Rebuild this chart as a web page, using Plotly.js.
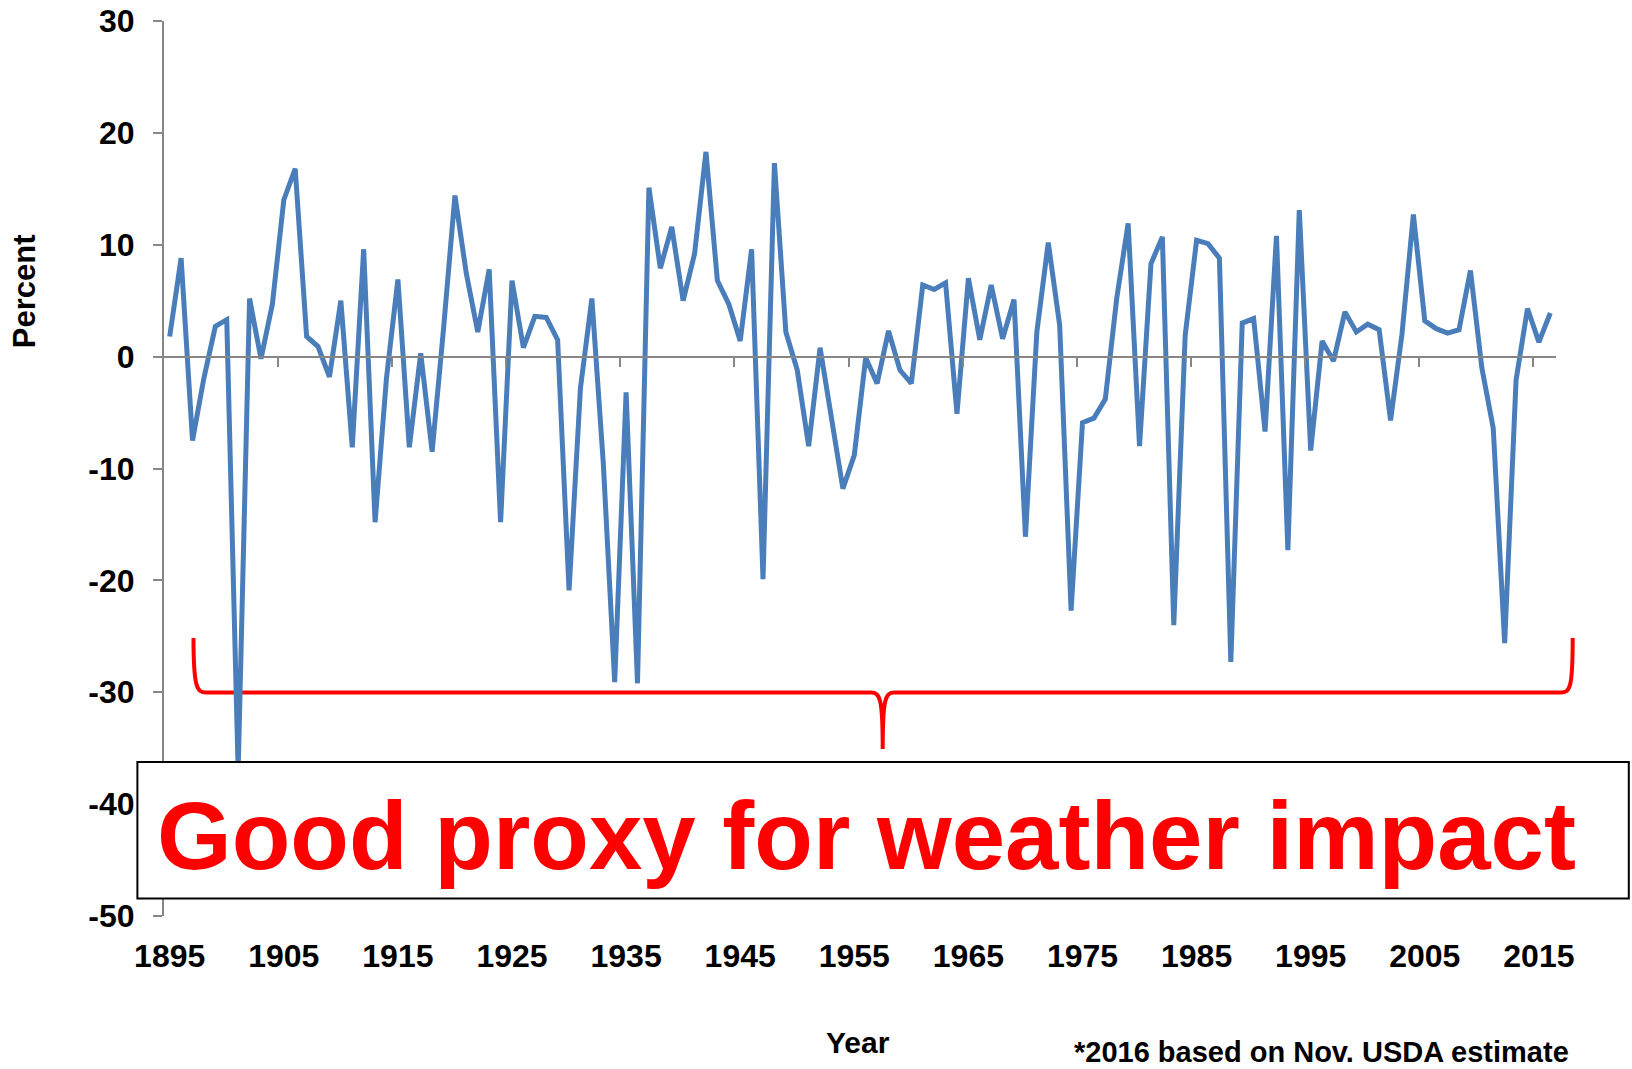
<!DOCTYPE html>
<html>
<head>
<meta charset="utf-8">
<script src="https://cdn.plot.ly/plotly-3.0.1.min.js"></script>
<style>html,body{margin:0;padding:0;background:#fff;}#chart{width:1632px;height:1069px;}</style>
</head>
<body>
<div id="chart"></div>
<script>
const years = [1895,1896,1897,1898,1899,1900,1901,1902,1903,1904,1905,1906,1907,1908,1909,1910,1911,1912,1913,1914,1915,1916,1917,1918,1919,1920,1921,1922,1923,1924,1925,1926,1927,1928,1929,1930,1931,1932,1933,1934,1935,1936,1937,1938,1939,1940,1941,1942,1943,1944,1945,1946,1947,1948,1949,1950,1951,1952,1953,1954,1955,1956,1957,1958,1959,1960,1961,1962,1963,1964,1965,1966,1967,1968,1969,1970,1971,1972,1973,1974,1975,1976,1977,1978,1979,1980,1981,1982,1983,1984,1985,1986,1987,1988,1989,1990,1991,1992,1993,1994,1995,1996,1997,1998,1999,2000,2001,2002,2003,2004,2005,2006,2007,2008,2009,2010,2011,2012,2013,2014,2015,2016];
const percent = [1.8,8.8,-7.5,-1.9,2.7,3.3,-37,5.2,-0.2,4.7,14.0,16.8,1.8,0.9,-1.8,5.0,-8.1,9.6,-14.8,-1.9,6.9,-8.1,0.3,-8.5,2.5,14.4,7.4,2.2,7.8,-14.8,6.8,0.8,3.6,3.5,1.5,-20.9,-2.8,5.2,-9.5,-29.1,-3.2,-29.2,15.1,7.9,11.6,5.0,9.2,18.3,6.8,4.7,1.4,9.6,-19.9,17.3,2.2,-1.2,-8.0,0.8,-5.5,-11.8,-8.8,-0.1,-2.4,2.3,-1.2,-2.4,6.4,6.0,6.6,-5.1,7.0,1.5,6.4,1.6,5.1,-16.1,2.2,10.2,2.8,-22.7,-5.9,-5.5,-3.8,5.2,11.9,-8.0,8.3,10.7,-24.0,1.9,10.4,10.1,8.8,-27.3,3.0,3.4,-6.7,10.8,-17.3,13.1,-8.4,1.4,-0.4,4.0,2.2,2.9,2.4,-5.7,2.0,12.7,3.2,2.5,2.1,2.4,7.7,-1.0,-6.4,-25.6,-2.1,4.3,1.3,3.9];
const xLabelYears = [1895,1905,1915,1925,1935,1945,1955,1965,1975,1985,1995,2005,2015];
const xLabelText = ["1895","1905","1915","1925","1935","1945","1955","1965","1975","1985","1995","2005","2015"];
const zeroTicks = [1904.5,1914.5,1924.5,1934.5,1944.5,1954.5,1964.5,1974.5,1984.5,1994.5,2004.5,2014.5];
const yTickVals = [-50,-40,-30,-20,-10,0,10,20,30];
const yTickText = ["-50","-40","-30","-20","-10","0","10","20","30"];
const xTitle = "Year";
const yTitle = "Percent";
const boxText = "Good proxy for weather impact";
const footnote = "*2016 based on Nov. USDA estimate";

const FONT = "Arial, 'Liberation Sans', Helvetica, sans-serif";
const GRAY = "#868686";
const ML = 164, MT = 21, PW = 1392, PH = 895;
function P(x, y) { return ((x - ML) / PW).toFixed(5) + "," + ((MT + PH - y) / PH).toFixed(5); }
function px(x) { return (x - ML) / PW; }
function py(y) { return (MT + PH - y) / PH; }

const brace = "M" + P(193.5, 638) +
  " C" + P(193.5, 688) + " " + P(197, 692.5) + " " + P(206, 692.5) +
  " L" + P(871, 692.5) +
  " C" + P(880, 692.5) + " " + P(882.7, 698) + " " + P(882.7, 749) +
  " C" + P(882.7, 698) + " " + P(885.4, 692.5) + " " + P(894.4, 692.5) +
  " L" + P(1561, 692.5) +
  " C" + P(1570, 692.5) + " " + P(1572.7, 688) + " " + P(1572.7, 638);

const traces = [
  {x: years, y: percent, type: "scatter", mode: "lines", xaxis: "x", yaxis: "y",
   line: {color: "#4A7EBB", width: 5}, hoverinfo: "x+y", showlegend: false},
  {x: years, y: percent, type: "scatter", mode: "lines", xaxis: "x2", yaxis: "y",
   line: {color: "rgba(0,0,0,0)", width: 0}, hoverinfo: "skip", showlegend: false}
];

const tickFont = {family: FONT, size: 32, color: "#000", weight: "bold"};

const layout = {
  width: 1632, height: 1069,
  margin: {l: ML, r: 1632 - ML - PW, t: MT, b: 1069 - MT - PH, pad: 0},
  paper_bgcolor: "#fff", plot_bgcolor: "#fff",
  font: {family: FONT, color: "#000"},
  showlegend: false,
  xaxis: {
    range: [1894.5, 2016.5], anchor: "free", position: 0.625,
    showline: true, linecolor: GRAY, linewidth: 2,
    ticks: "outside", ticklen: 9, tickwidth: 2, tickcolor: GRAY,
    tickmode: "array", tickvals: zeroTicks, showticklabels: false,
    showgrid: false, zeroline: false
  },
  xaxis2: {
    range: [1894.5, 2016.5], overlaying: "x", anchor: "y", side: "bottom",
    showline: false, showgrid: false, zeroline: false,
    ticks: "outside", ticklen: 12, tickcolor: "rgba(0,0,0,0)",
    tickmode: "array", tickvals: xLabelYears, ticktext: xLabelText,
    tickfont: tickFont
  },
  yaxis: {
    range: [-50, 30], showline: true, linecolor: GRAY, linewidth: 2,
    ticks: "outside", ticklen: 9, tickwidth: 2, tickcolor: GRAY,
    tickmode: "array", tickvals: yTickVals, ticktext: yTickText,
    tickfont: tickFont,
    ticklabelstandoff: 12,
    showgrid: false, zeroline: false
  },
  shapes: [
    {type: "path", xref: "paper", yref: "paper", path: brace, layer: "below",
     line: {color: "#FF0000", width: 4}},
    {type: "rect", xref: "paper", yref: "paper", layer: "above",
     x0: px(137.4), x1: px(1628.8), y0: py(898.5), y1: py(762),
     fillcolor: "#FFFFFF", line: {color: "#000", width: 2}}
  ],
  annotations: [
    {text: boxText, xref: "paper", yref: "paper", x: px(866), y: py(835.7),
     xanchor: "center", yanchor: "middle", showarrow: false,
     font: {family: FONT, size: 96, color: "#FF0000", weight: "bold"}},
    {text: xTitle, xref: "paper", yref: "paper", x: px(858), y: py(1042),
     xanchor: "center", yanchor: "middle", showarrow: false,
     font: {family: FONT, size: 30, color: "#000", weight: "bold"}},
    {text: yTitle, xref: "paper", yref: "paper", x: px(24.5), y: py(291.7), textangle: -90,
     xanchor: "center", yanchor: "middle", showarrow: false,
     font: {family: FONT, size: 31, color: "#000", weight: "bold"}},
    {text: footnote, xref: "paper", yref: "paper", x: px(1571), y: py(1052),
     xanchor: "right", yanchor: "middle", showarrow: false,
     font: {family: FONT, size: 29, color: "#000", weight: "bold"}}
  ]
};

Plotly.newPlot("chart", traces, layout, {displayModeBar: false, staticPlot: true});
</script>
</body>
</html>
